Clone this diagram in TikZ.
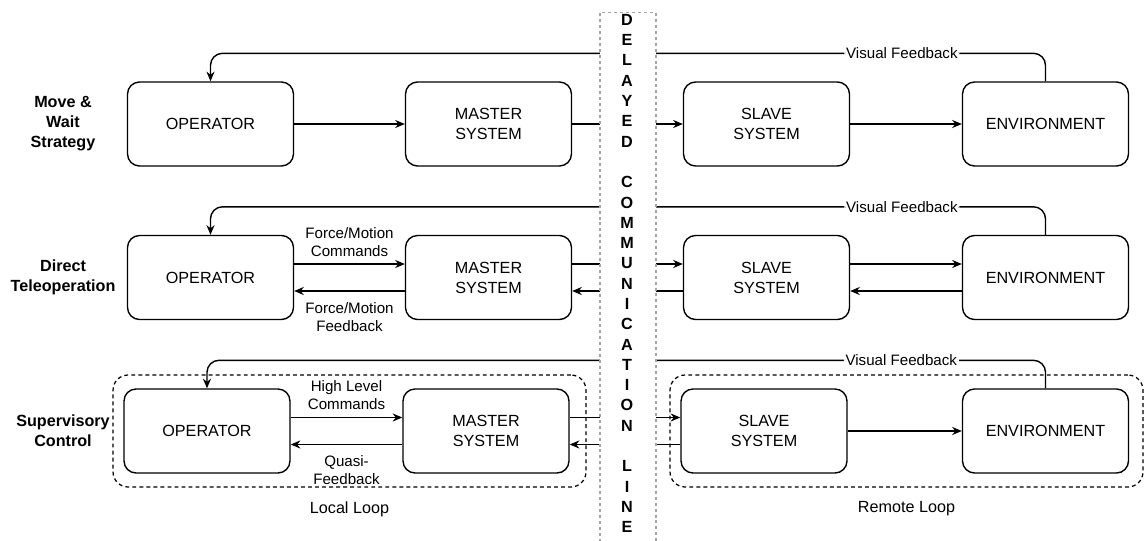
\documentclass[tikz,border=0pt]{standalone}
\usepackage{fontspec}
\setmainfont{Liberation Sans}
\usetikzlibrary{arrows.meta}
\usetikzlibrary{positioning}

\begin{document}
\begin{tikzpicture}[
  x=0.02cm, y=-0.02cm,
  sysbox/.style={draw, rectangle, rounded corners=0.24cm, line width=0.8pt, minimum width=3.32cm, minimum height=1.68cm, align=center, font=\fontsize{9.2}{11.4}\selectfont},
  rowname/.style={align=center, font=\fontsize{9.2}{11.4}\selectfont\bfseries},
  lbl/.style={align=center, inner sep=1pt, font=\fontsize{8.6}{10.2}\selectfont},
  arr/.style={line width=0.8pt, -{Stealth[length=5.5pt,width=4.6pt]}},
  fb/.style={arr, rounded corners=0.24cm},
  looparea/.style={draw, rectangle, rounded corners=0.3cm, line width=0.7pt, dash pattern=on 2.2pt off 1.8pt, minimum width=9.46cm, minimum height=2.24cm},
  commline/.style={draw=gray!70, line width=0.6pt, dash pattern=on 1.7pt off 1.7pt},
]

\useasboundingbox (0,0) rectangle (1144,541);

% row names
\node (name1) [rowname] at (63,124) {Move \&\\Wait\\Strategy};
\node (name2) [rowname] at (63,277.5) {Direct\\Teleoperation};
\node (name3) [rowname] at (63,431) {Supervisory\\Control};

% loops of the supervisory row
\node (local) [looparea] at (349.5,431) {};
\node (remote) [looparea] at (906.5,431) {};
\node (locallbl) [below=0.15cm of local, font=\fontsize{9.2}{11.4}\selectfont] {Local Loop};
\node (remotelbl) [below=0.15cm of remote, font=\fontsize{9.2}{11.4}\selectfont] {Remote Loop};

% blocks
\node (op1) [sysbox] at (210.5,124) {OPERATOR};
\node (ma1) [sysbox] at (488.5,124) {MASTER\\SYSTEM};
\node (sl1) [sysbox] at (766.5,124) {SLAVE\\SYSTEM};
\node (env1) [sysbox] at (1045.5,124) {ENVIRONMENT};

\node (op2) [sysbox] at (210.5,277.5) {OPERATOR};
\node (ma2) [sysbox] at (488.5,277.5) {MASTER\\SYSTEM};
\node (sl2) [sysbox] at (766.5,277.5) {SLAVE\\SYSTEM};
\node (env2) [sysbox] at (1045.5,277.5) {ENVIRONMENT};

\node (op3) [sysbox] at (207,431) {OPERATOR};
\node (ma3) [sysbox] at (486,431) {MASTER\\SYSTEM};
\node (sl3) [sysbox] at (764,431) {SLAVE\\SYSTEM};
\node (env3) [sysbox] at (1045.5,431) {ENVIRONMENT};

% move & wait
\draw[arr] (op1) -- (ma1);
\draw[arr] (ma1) -- (sl1);
\draw[arr] (sl1) -- (env1);
\draw[fb] (env1.north) -- ++(0,-28) -| node[lbl, pos=0.086, fill=white] {Visual Feedback} (op1.north);

% direct teleoperation
\draw[arr] ([yshift=0.27cm]op2.east) -- node[lbl, above=3pt] {Force/Motion\\Commands} ([yshift=0.27cm]ma2.west);
\draw[arr] ([yshift=-0.27cm]ma2.west) -- node[lbl, below=5pt] {Force/Motion\\Feedback} ([yshift=-0.27cm]op2.east);
\draw[arr] ([yshift=0.27cm]ma2.east) -- ([yshift=0.27cm]sl2.west);
\draw[arr] ([yshift=-0.27cm]sl2.west) -- ([yshift=-0.27cm]ma2.east);
\draw[arr] ([yshift=0.27cm]sl2.east) -- ([yshift=0.27cm]env2.west);
\draw[arr] ([yshift=-0.27cm]env2.west) -- ([yshift=-0.27cm]sl2.east);
\draw[fb] (env2.north) -- ++(0,-28) -| node[lbl, pos=0.086, fill=white] {Visual Feedback} (op2.north);

% supervisory control
\draw[arr] ([yshift=0.27cm]op3.east) -- node[lbl, above=3pt] {High Level\\Commands} ([yshift=0.27cm]ma3.west);
\draw[arr] ([yshift=-0.27cm]ma3.west) -- node[lbl, below=5pt] {Quasi-\\Feedback} ([yshift=-0.27cm]op3.east);
\draw[arr] ([yshift=0.27cm]ma3.east) -- ([yshift=0.27cm]sl3.west);
\draw[arr] ([yshift=-0.27cm]sl3.west) -- ([yshift=-0.27cm]ma3.east);
\draw[arr] (sl3) -- (env3);
\draw[fb] (env3.north) -- ++(0,-28) -| node[lbl, pos=0.086, fill=white] {Visual Feedback} (op3.north);

% delayed communication line
\fill[white] (600,12.7) rectangle (656,560);
\draw[commline] (600,560) -- (600,12.7) -- (656,12.7) -- (656,560);
\node (comm) [align=center, font=\fontsize{9.2}{11.55}\selectfont\bfseries] at (627,273.5)
  {D\\E\\L\\A\\Y\\E\\D\\\mbox{}\\C\\O\\M\\M\\U\\N\\I\\C\\A\\T\\I\\O\\N\\\mbox{}\\L\\I\\N\\E};

\end{tikzpicture}
\end{document}
